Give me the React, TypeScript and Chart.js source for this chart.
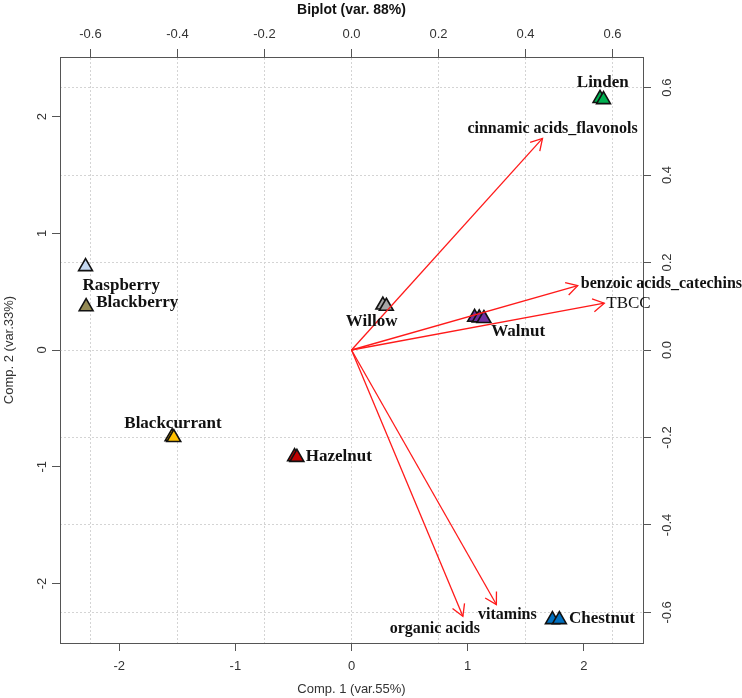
import React, { useEffect, useRef } from "react";
import { Chart, registerables } from "chart.js";

Chart.register(...registerables);

// ---------------- data ----------------
const TITLE = "Biplot (var. 88%)";
const X_TITLE = "Comp. 1 (var.55%)";
const Y_TITLE = "Comp. 2 (var.33%)";

const SAMPLES = ["Raspberry", "Blackberry", "Blackcurrant", "Hazelnut", "Willow", "Walnut", "Linden", "Chestnut"];
const SAMPLE_COLORS = ["#c6d9f1", "#948a54", "#ffc000", "#c00000", "#a6a6a6", "#7030a0", "#00b050", "#0070c0"];
// replicate scores (Comp. 1, Comp. 2)
const PC1 = [[-2.29], [-2.285], [-1.545, -1.53], [-0.49, -0.47], [0.27, 0.3], [1.06, 1.1, 1.14], [2.14, 2.17], [1.73, 1.79]];
const PC2 = [[0.714], [0.371], [-0.743, -0.75], [-0.914, -0.92], [0.385, 0.375], [0.28, 0.275, 0.27], [2.155, 2.145], [-2.31, -2.31]];

const VARIABLES = ["cinnamic acids_flavonols", "benzoic acids_catechins", "TBCC", "vitamins", "organic acids"];
const LOAD1 = [0.439, 0.52, 0.581, 0.333, 0.256];
const LOAD2 = [0.484, 0.147, 0.107, -0.582, -0.609];

const SCORE_TICKS = [-2, -1, 0, 1, 2];
const LOAD_TICKS = [-0.6, -0.4, -0.2, 0, 0.2, 0.4, 0.6];
const SCORE_LIM = 2.51;
const LOAD_LIM = 0.67;

// ---------------- styles ----------------
const ARROW_COLOR = "#ff1a1a";
const AXIS_COLOR = "#555";
const TICK_FONT = { family: "'Liberation Sans', Arial, sans-serif", size: 13 };
const SERIF = "'Liberation Serif', 'Times New Roman', serif";

const SAMPLE_LABEL_STYLE: Record<string, { dx: number; dy: number; align: CanvasTextAlign }> = {
  Raspberry: { dx: -3, dy: 19, align: "left" },
  Blackberry: { dx: 10, dy: -4, align: "left" },
  Blackcurrant: { dx: 0, dy: -14, align: "center" },
  Hazelnut: { dx: 10, dy: 0, align: "left" },
  Willow: { dx: -13, dy: 16, align: "center" },
  Walnut: { dx: 12, dy: 14, align: "left" },
  Linden: { dx: 1, dy: -16, align: "center" },
  Chestnut: { dx: 13, dy: -1, align: "left" },
};

const VAR_LABEL_STYLE: Record<string, { dx: number; dy: number; align: CanvasTextAlign; font: string }> = {
  "cinnamic acids_flavonols": { dx: 10, dy: -9, align: "center", font: `bold 16px ${SERIF}` },
  "benzoic acids_catechins": { dx: 3, dy: -2, align: "left", font: `bold 16px ${SERIF}` },
  TBCC: { dx: 2, dy: 0, align: "left", font: `17px ${SERIF}` },
  vitamins: { dx: 11, dy: 10, align: "center", font: `bold 16px ${SERIF}` },
  "organic acids": { dx: -28, dy: 13, align: "center", font: `bold 16px ${SERIF}` },
};

const ARROW_HEAD = 13;
const ARROW_ANGLE = Math.PI / 6;

const overlayPlugin = {
  id: "biplotOverlay",
  afterDatasetsDraw(chart: any) {
    const { ctx, scales } = chart;
    const sx = scales.x, sy = scales.y, lx = scales.x2, ly = scales.y2;
    ctx.save();
    // arrow heads
    const ox = lx.getPixelForValue(0);
    const oy = ly.getPixelForValue(0);
    ctx.strokeStyle = ARROW_COLOR;
    ctx.lineWidth = 1.3;
    VARIABLES.forEach((_, i) => {
      const tx = lx.getPixelForValue(LOAD1[i]);
      const ty = ly.getPixelForValue(LOAD2[i]);
      const ang = Math.atan2(ty - oy, tx - ox);
      ctx.beginPath();
      ctx.moveTo(tx - ARROW_HEAD * Math.cos(ang - ARROW_ANGLE), ty - ARROW_HEAD * Math.sin(ang - ARROW_ANGLE));
      ctx.lineTo(tx, ty);
      ctx.lineTo(tx - ARROW_HEAD * Math.cos(ang + ARROW_ANGLE), ty - ARROW_HEAD * Math.sin(ang + ARROW_ANGLE));
      ctx.stroke();
    });
    // variable labels
    ctx.fillStyle = "#111";
    ctx.textBaseline = "middle";
    VARIABLES.forEach((name, i) => {
      const st = VAR_LABEL_STYLE[name];
      const tx = lx.getPixelForValue(LOAD1[i]);
      const ty = ly.getPixelForValue(LOAD2[i]);
      ctx.font = st.font;
      ctx.textAlign = st.align;
      ctx.fillText(name, tx + st.dx, ty + st.dy);
    });
    // sample labels
    ctx.font = `bold 17px ${SERIF}`;
    SAMPLES.forEach((name, i) => {
      const st = SAMPLE_LABEL_STYLE[name];
      const mx = PC1[i].reduce((a, b) => a + b, 0) / PC1[i].length;
      const my = PC2[i].reduce((a, b) => a + b, 0) / PC2[i].length;
      ctx.textAlign = st.align;
      ctx.fillText(name, sx.getPixelForValue(mx) + st.dx, sy.getPixelForValue(my) + st.dy);
    });
    ctx.restore();
  },
};

export default function App() {
  const ref = useRef<HTMLCanvasElement | null>(null);

  useEffect(() => {
    if (!ref.current) return;

    const pointSets = SAMPLES.map((name, i) => ({
      label: name,
      data: PC1[i].map((x, j) => ({ x, y: PC2[i][j] })),
      xAxisID: "x",
      yAxisID: "y",
      pointStyle: "triangle",
      pointRadius: 8,
      pointHoverRadius: 8,
      backgroundColor: SAMPLE_COLORS[i],
      borderColor: "#111",
      borderWidth: 1.6,
      showLine: false,
      order: 2,
    }));

    const arrowSets = VARIABLES.map((name, i) => ({
      label: name,
      data: [
        { x: 0, y: 0 },
        { x: LOAD1[i], y: LOAD2[i] },
      ],
      xAxisID: "x2",
      yAxisID: "y2",
      showLine: true,
      borderColor: ARROW_COLOR,
      borderWidth: 1.3,
      pointRadius: 0,
      pointHoverRadius: 0,
      fill: false,
      order: 1,
    }));

    const scoreTicks = (s: any) => {
      s.ticks = SCORE_TICKS.map((v) => ({ value: v }));
    };
    const loadTicks = (s: any) => {
      s.ticks = LOAD_TICKS.map((v) => ({ value: v }));
    };

    const chart = new Chart(ref.current, {
      type: "scatter",
      data: { datasets: [...arrowSets, ...pointSets] as any },
      plugins: [overlayPlugin],
      options: {
        animation: false,
        responsive: false,
        devicePixelRatio: 1,
        layout: { padding: 0 },
        plugins: { legend: { display: false }, tooltip: { enabled: false }, title: { display: false } },
        scales: {
          x: {
            type: "linear",
            position: "bottom",
            min: -SCORE_LIM,
            max: SCORE_LIM,
            afterBuildTicks: scoreTicks,
            afterFit: (s: any) => {
              s.height = 55;
            },
            grid: { drawOnChartArea: false, drawTicks: true, tickLength: 8, tickColor: AXIS_COLOR, tickWidth: 1 },
            border: { display: true, color: AXIS_COLOR, width: 1 },
            ticks: { font: TICK_FONT, color: "#333", padding: 8, callback: (v: any) => String(v), maxRotation: 0, minRotation: 0 },
            title: { display: true, text: X_TITLE, font: TICK_FONT, color: "#333", padding: { top: 0, bottom: 1 } },
          },
          y: {
            type: "linear",
            position: "left",
            min: -SCORE_LIM,
            max: SCORE_LIM,
            afterBuildTicks: scoreTicks,
            afterFit: (s: any) => {
              s.width = 60;
            },
            grid: { drawOnChartArea: false, drawTicks: true, tickLength: 8, tickColor: AXIS_COLOR, tickWidth: 1 },
            border: { display: true, color: AXIS_COLOR, width: 1 },
            ticks: { font: TICK_FONT, color: "#333", padding: 4, minRotation: 90, maxRotation: 90, crossAlign: "center", callback: (v: any) => String(v) },
            title: { display: true, text: Y_TITLE, font: TICK_FONT, color: "#333", padding: { top: 2, bottom: 0 } },
          },
          x2: {
            type: "linear",
            position: "top",
            min: -LOAD_LIM,
            max: LOAD_LIM,
            afterBuildTicks: loadTicks,
            afterFit: (s: any) => {
              s.height = 57;
            },
            grid: { drawOnChartArea: true, color: "#d4d4d4", lineWidth: 1, drawTicks: true, tickLength: 8, tickColor: AXIS_COLOR, tickWidth: 1, tickBorderDash: [] },
            border: { display: true, color: AXIS_COLOR, width: 1, dash: [2, 2] },
            ticks: { font: TICK_FONT, color: "#333", padding: 7, maxRotation: 0, minRotation: 0, callback: (v: any) => Number(v).toFixed(1) },
            title: { display: true, text: TITLE, font: { family: "'Liberation Sans', Arial, sans-serif", size: 14, weight: "bold" }, color: "#111", padding: { top: 2, bottom: 0 } },
          },
          y2: {
            type: "linear",
            position: "right",
            min: -LOAD_LIM,
            max: LOAD_LIM,
            afterBuildTicks: loadTicks,
            afterFit: (s: any) => {
              s.width = 99;
            },
            grid: { drawOnChartArea: true, color: "#d4d4d4", lineWidth: 1, drawTicks: true, tickLength: 8, tickColor: AXIS_COLOR, tickWidth: 1, tickBorderDash: [] },
            border: { display: true, color: AXIS_COLOR, width: 1, dash: [2, 2] },
            ticks: { font: TICK_FONT, color: "#333", padding: 5, minRotation: 90, maxRotation: 90, crossAlign: "center", callback: (v: any) => Number(v).toFixed(1) },
          },
        },
      } as any,
    });

    return () => chart.destroy();
  }, []);

  return (
    <div style={{ position: "fixed", left: 0, top: 0, width: 742, height: 698, background: "#fff" }}>
      <canvas ref={ref} width={742} height={698} style={{ display: "block", width: 742, height: 698 }} />
    </div>
  );
}
